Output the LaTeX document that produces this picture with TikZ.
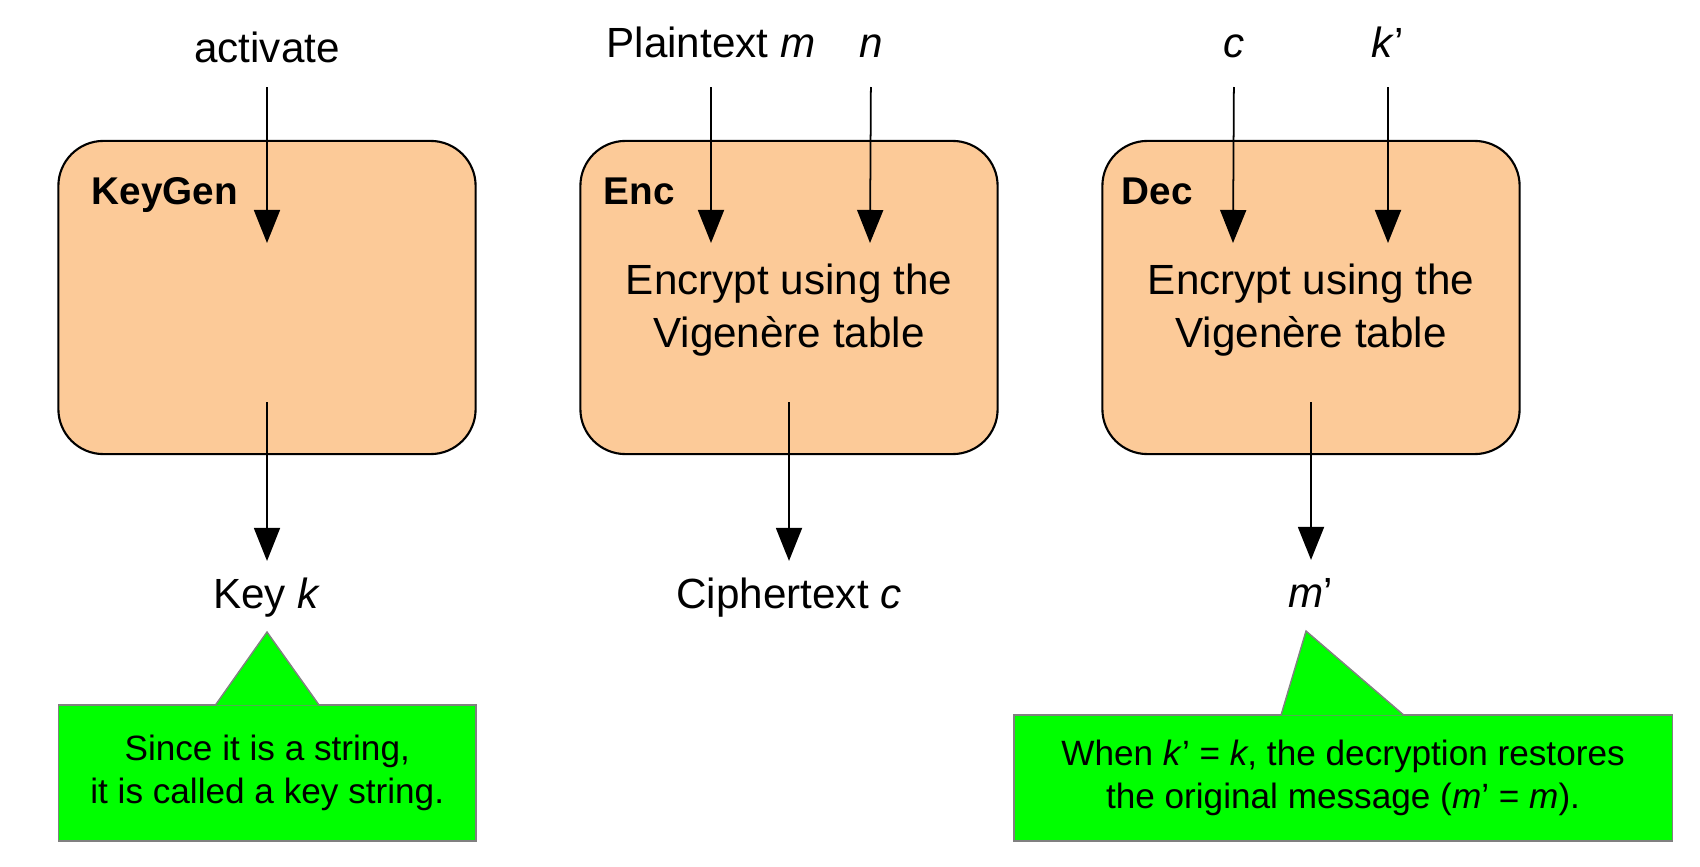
\documentclass[tikz,border=0pt]{standalone}
\usepackage{fontspec}
\setmainfont{Liberation Sans}
\usepackage{xcolor}
\usetikzlibrary{positioning,arrows.meta}
\definecolor{boxfill}{RGB}{252,202,152}
\definecolor{notefill}{RGB}{0,255,0}

\begin{document}
\begin{tikzpicture}[
    x=0.01cm, y=-0.01cm,
    every node/.style={font=\fontsize{12}{15}\selectfont},
    algo/.style={rectangle, draw, line width=0.6pt, rounded corners=0.45cm, fill=boxfill, minimum width=4.17cm, minimum height=3.13cm},
    tag/.style={anchor=base west, inner sep=0pt, font=\fontsize{11}{14}\selectfont\bfseries},
    io/.style={anchor=base, inner sep=0pt, text height=0.75em, text depth=0.25em},
    inner/.style={align=center},
    note/.style={rectangle, draw=gray, fill=notefill, line width=0.4pt, inner sep=0pt, align=center, font=\fontsize{10}{12.3}\selectfont},
    pointer/.style={fill=notefill, draw=gray, line width=0.4pt},
    flow/.style={->, line width=0.5pt},
    >={Triangle[length=0.33cm, width=0.26cm]}
]
\useasboundingbox (0,0) rectangle (1700,867);

% KeyGen column
\node[io] (activate) at (267,63) {activate};
\node[algo] (keygen) at (267,297.5) {};
\node[tag] (keygentag) at (91,205) {KeyGen};
\coordinate (keygenin) at (267,243);
\coordinate (keygenout) at (267,402);
\node[io] (keyk) at (267,608) {Key \textit{k}};
\node[note, minimum width=4.175cm, minimum height=1.36cm] (keynote) at (267.25,773) {Since it is a string,\\it is called a key string.};

% Enc column
\node[io] (plain) at (711,58) {Plaintext \textit{m}};
\node[io] (nin) at (871,58) {\textit{n}};
\node[algo] (enc) at (789,297.5) {};
\node[tag] (enctag) at (603,205) {Enc};
\node[inner] (enctext) at (789,310) {Encrypt using the\\Vigenère table};
\coordinate (encmin) at (711,243);
\coordinate (encnin) at (870,243);
\coordinate (encout) at (789,402);
\node[io] (cipher) at (789,608) {Ciphertext \textit{c}};

% Dec column
\node[io] (cin) at (1234,58) {\textit{c}};
\node[io] (kin) at (1388,58) {\textit{k}’};
\node[algo] (dec) at (1311,297.5) {};
\node[tag] (dectag) at (1121,205) {Dec};
\node[inner] (dectext) at (1311,310) {Encrypt using the\\Vigenère table};
\coordinate (deccin) at (1233,243);
\coordinate (deckin) at (1388,243);
\coordinate (decout) at (1311,402);
\node[io] (mprime) at (1311,607) {\textit{m}’};
\node[note, minimum width=6.58cm, minimum height=1.26cm] (decnote) at (1343,778) {When \textit{k}’ = \textit{k}, the decryption restores\\the original message (\textit{m}’ = \textit{m}).};

% Arrows
\draw[flow, shorten <=0.145cm] (activate.south) -- (keygenin);
\draw[flow, shorten >=0.2cm] (keygenout) -- (keyk.north);
\draw[flow, shorten <=0.195cm] (plain.south) -- (encmin);
\draw[flow, shorten <=0.195cm] (nin.south) -- (encnin);
\draw[flow, shorten >=0.2cm] (encout) -- (cipher.north);
\draw[flow, shorten <=0.195cm] (cin.south) -- (deccin);
\draw[flow, shorten <=0.195cm] (kin.south) -- (deckin);
\draw[flow, shorten >=0.2cm] (decout) -- (mprime.north);

% Callout pointers
\filldraw[pointer] ([xshift=-0.52cm, yshift=-0.3pt]keynote.north) -- ([yshift=-0.145cm]keyk.south) -- ([xshift=0.52cm, yshift=-0.3pt]keynote.north);
\filldraw[pointer] ([xshift=-0.62cm, yshift=-0.3pt]decnote.north) -- ([xshift=-0.05cm, yshift=-0.145cm]mprime.south) -- ([xshift=0.61cm, yshift=-0.3pt]decnote.north);

\end{tikzpicture}
\end{document}
